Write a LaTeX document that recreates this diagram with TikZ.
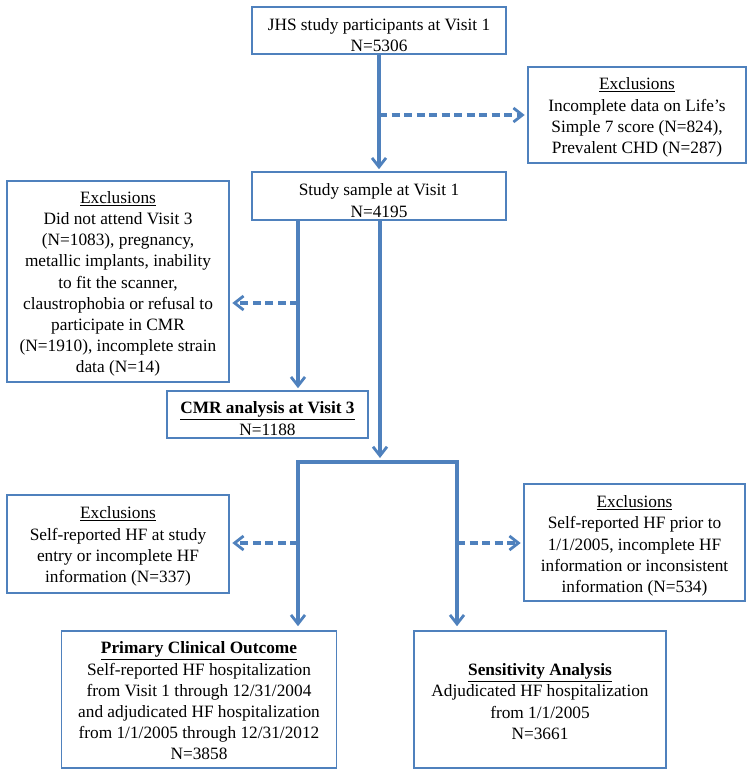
\documentclass[tikz,border=0pt]{standalone}
\usepackage{fontspec}
\setmainfont{Liberation Serif}
\usetikzlibrary{arrows.meta}
\definecolor{fblue}{RGB}{79,129,189}
\tikzset{
  box/.style={draw=fblue, line width=1.6pt, fill=white, inner sep=0pt},
  txt/.style={align=center, inner sep=0pt, font=\fontsize{17.3}{21.2}\selectfont},
  barb/.tip={Straight Barb[length=9pt,width=14pt,line width=2.8pt]},
  arr/.style={draw=fblue, line width=3.4pt, -barb},
  arrboth/.style={draw=fblue, line width=3.4pt, barb-barb},
  dsh/.style={draw=fblue, line width=3.2pt, dash pattern=on 8pt off 4.5pt, -barb}
}
\begin{document}
\begin{tikzpicture}[x=1pt,y=-1pt]
\useasboundingbox (0,0) rectangle (754,776);
% boxes
\node[box, minimum width=254pt, minimum height=47pt] (b1) at (379,30.5) {};
\node[txt] (b1t) at ([yshift=-4.5pt]b1.center) {JHS study participants at Visit 1\\N=5306};
\node[box, minimum width=218pt, minimum height=96pt] (ex1) at (637,115) {};
\node[txt] (ex1t) at ([yshift=-2.5pt]ex1.center)
  {\underline{Exclusions}\\Incomplete data on Life’s\\Simple 7 score (N=824),\\Prevalent CHD (N=287)};
\node[box, minimum width=254pt, minimum height=48pt] (b2) at (379,196) {};
\node[txt] (b2t) at ([yshift=-4.5pt]b2.center) {Study sample at Visit 1\\N=4195};
\node[box, minimum width=222pt, minimum height=201pt] (ex2) at (118,281.5) {};
\node[txt] (ex2t) at ([yshift=-2.5pt]ex2.center)
  {\underline{Exclusions}\\Did not attend Visit 3\\(N=1083), pregnancy,\\metallic implants, inability\\to fit the scanner,\\claustrophobia or refusal to\\participate in CMR\\(N=1910), incomplete strain\\data (N=14)};
\node[box, minimum width=201pt, minimum height=47pt] (cmr) at (267.5,414.5) {};
\node[txt] (cmrt) at ([yshift=-4pt]cmr.center) {\textbf{\underline{CMR analysis at Visit 3}}\\N=1188};
\node[box, minimum width=222pt, minimum height=98pt] (ex3) at (118,544) {};
\node[txt] (ex3t) at ([yshift=-2.5pt]ex3.center)
  {\underline{Exclusions}\\Self-reported HF at study\\entry or incomplete HF\\information (N=337)};
\node[box, minimum width=221pt, minimum height=117pt] (ex4) at (634.5,542.5) {};
\node[txt] (ex4t) at ([yshift=-3.5pt]ex4.center)
  {\underline{Exclusions}\\Self-reported HF prior to\\1/1/2005, incomplete HF\\information or inconsistent\\information (N=534)};
\node[box, minimum width=275pt, minimum height=137pt] (prim) at (199,699.5) {};
\node[txt] (primt) at ([yshift=-1.5pt]prim.center)
  {\textbf{\underline{Primary Clinical Outcome}}\\Self-reported HF hospitalization\\from Visit 1 through 12/31/2004\\and adjudicated HF hospitalization\\from 1/1/2005 through 12/31/2012\\N=3858};
\node[box, minimum width=252pt, minimum height=137pt] (sens) at (540,699.5) {};
\node[txt] (senst) at ([yshift=-2pt]sens.center)
  {\textbf{\underline{Sensitivity Analysis}}\\Adjudicated HF hospitalization\\from 1/1/2005\\N=3661};
% coordinates
\coordinate (d1) at (379,115);
\coordinate (sl) at (298,0);
\coordinate (sr) at (380,0);
\coordinate (split) at (380,458);
\coordinate (bl) at (298,462);
\coordinate (br) at (457,462);
\coordinate (d2) at (298,303);
\coordinate (d3) at (298,543);
\coordinate (d4) at (457,543);
% connectors
\draw[arr, shorten >=2pt] (b1) -- (b2);
\draw[dsh, shorten >=2.5pt] (d1) -- (d1 -| ex1.west);
\draw[arr, shorten >=2pt] (b2.south -| sl) -- (cmr.north -| sl);
\draw[dsh, shorten >=2.5pt] (d2) -- (d2 -| ex2.east);
\draw[arr] (b2.south -| sr) -- (split);
\draw[arrboth, shorten <=4pt, shorten >=4pt] (bl |- prim.north) -- (bl) -- (br) -- (br |- sens.north);
\draw[dsh, shorten >=2.5pt] (d3) -- (d3 -| ex3.east);
\draw[dsh, shorten >=2.5pt] (d4) -- (d4 -| ex4.west);
\end{tikzpicture}
\end{document}
